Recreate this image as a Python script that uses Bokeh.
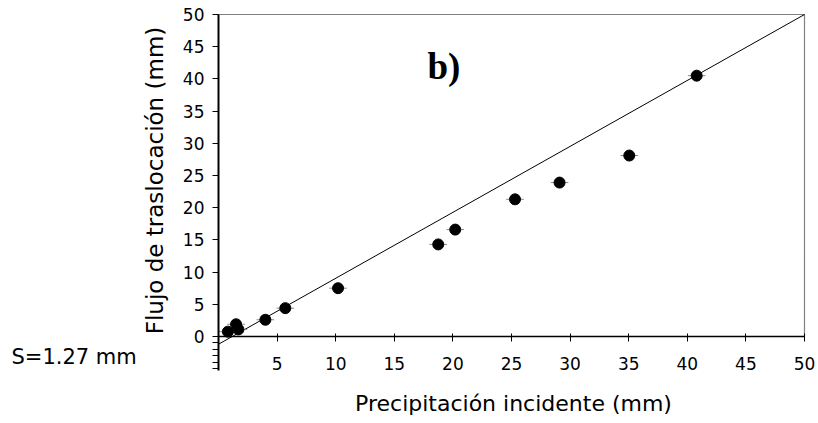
import math
from bokeh.plotting import figure
from bokeh.models import Range1d, FixedTicker, Label
from bokeh.embed import file_html
from bokeh.resources import INLINE

# ---- data ----
precip = [0.8, 1.5, 1.7, 4.0, 5.7, 10.2, 18.75, 20.2, 25.3, 29.1, 35.05, 40.8]
flujo = [0.75, 1.9, 1.1, 2.6, 4.4, 7.5, 14.3, 16.6, 21.3, 23.9, 28.1, 40.5]
x_err = [0.75] * len(precip)
fit_x = [0.0, 50.0]
fit_y = [-1.2, 50.0]
x_ticks = [5, 10, 15, 20, 25, 30, 35, 40, 45, 50]
y_ticks = [0, 5, 10, 15, 20, 25, 30, 35, 40, 45, 50]
y_minor = [-1, -2, -3, -4, -5]
x_title = "Precipitación incidente (mm)"
y_title = "Flujo de traslocación (mm)"
panel_tag = "b)"
s_text = "S=1.27 mm"

FONT = "DejaVu Sans"
W, H = 818, 423

# ---- layout: where data 0 / 50 land on the page (pixels) ----
PX_X0, PX_X50 = 218.0, 804.0
PX_Y0, PX_Y50 = 336.0, 14.0
sx = (PX_X50 - PX_X0) / 50.0
sy = (PX_Y0 - PX_Y50) / 50.0


def dx(px):
    return (px - PX_X0) / sx


def dy(py):
    return (PX_Y0 - py) / sy


p = figure(width=W, height=H, output_backend="svg", toolbar_location=None, title=None,
           x_range=Range1d(dx(0), dx(W)), y_range=Range1d(dy(H), dy(0)),
           min_border=0, min_border_left=0, min_border_right=0,
           min_border_top=0, min_border_bottom=0)
p.outline_line_color = None
p.xgrid.visible = False
p.ygrid.visible = False
p.background_fill_color = "white"
p.border_fill_color = "white"

# axes (fixed at the origin, so they take no side-panel space)
xa = p.xaxis[0]
xa.fixed_location = 0
xa.bounds = (0, x_ticks[-1])
xa.ticker = FixedTicker(ticks=x_ticks)
xa.axis_line_color = "black"
xa.axis_line_width = 1.5
xa.major_tick_in = 3
xa.major_tick_out = 5
xa.major_tick_line_color = "black"
xa.minor_tick_line_color = None
xa.major_label_text_font = FONT
xa.major_label_text_font_size = "17px"
xa.major_label_text_color = "black"
xa.major_label_standoff = 15

ya = p.yaxis[0]
ya.fixed_location = 0
ya.bounds = (dy(370), y_ticks[-1])
ya.ticker = FixedTicker(ticks=y_ticks, minor_ticks=y_minor)
ya.axis_line_color = "black"
ya.axis_line_width = 2
ya.major_tick_in = 0
ya.major_tick_out = 6
ya.minor_tick_in = 0
ya.minor_tick_out = 6
ya.major_tick_line_color = "black"
ya.minor_tick_line_color = "black"
ya.major_label_text_font = FONT
ya.major_label_text_font_size = "17px"
ya.major_label_text_color = "black"
ya.major_label_standoff = 8

# plot-area box (top and right sides)
p.line(x=[0, x_ticks[-1], x_ticks[-1]],
       y=[y_ticks[-1], y_ticks[-1], y_ticks[0]],
       line_color="#808080", line_width=1.2)

# fitted line
p.line(x=fit_x, y=fit_y, line_color="black", line_width=1)

# error whiskers and points
p.segment(x0=[a - e for a, e in zip(precip, x_err)], x1=[a + e for a, e in zip(precip, x_err)],
          y0=flujo, y1=flujo, line_color="#888888", line_width=1)
p.scatter(x=precip, y=flujo, marker="circle", size=11, fill_color="black", line_color="black")

# texts
p.add_layout(Label(x=dx(427), y=dy(66), text=panel_tag, text_font="Liberation Serif",
                   text_font_style="bold", text_font_size="37px", text_color="black",
                   text_align="left", text_baseline="middle"))
p.add_layout(Label(x=dx(513), y=dy(403), text=x_title, text_font=FONT, text_font_size="22px",
                   text_color="black", text_align="center", text_baseline="middle"))
p.add_layout(Label(x=dx(154), y=dy(180), text=y_title, text_font=FONT, text_font_size="23px",
                   text_color="black", text_align="center", text_baseline="middle",
                   angle=math.pi / 2))
p.add_layout(Label(x=dx(11), y=dy(356.5), text=s_text, text_font=FONT, text_font_size="21px",
                   text_color="black", text_align="left", text_baseline="middle"))

open("out.html", "w").write(file_html(p, INLINE))
